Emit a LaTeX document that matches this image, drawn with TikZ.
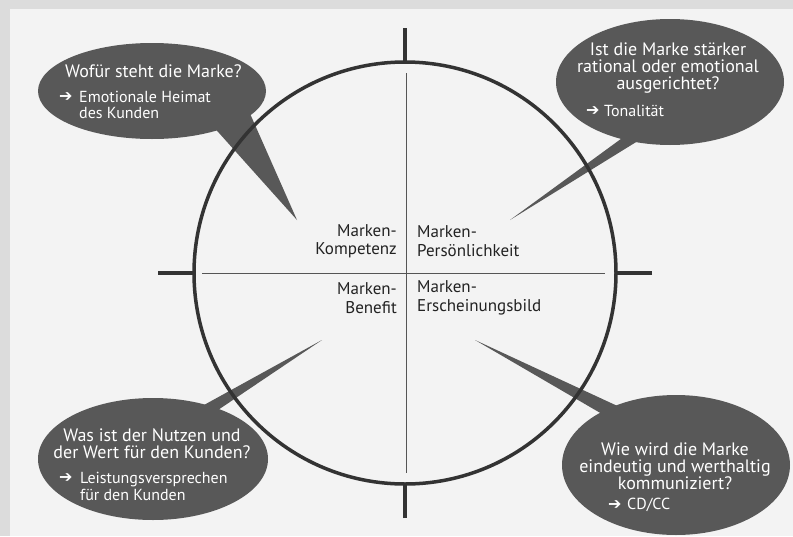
\documentclass[tikz,border=0pt]{standalone}
\usepackage{fontspec}
\setmainfont{PT Sans}
\newfontfamily\arrfont{DejaVu Sans}
\usetikzlibrary{shapes.geometric}
\definecolor{bgouter}{HTML}{DCDCDC}
\definecolor{bginner}{HTML}{F3F3F3}
\definecolor{bubblecol}{HTML}{585858}
\definecolor{linecol}{HTML}{333333}
\definecolor{axiscol}{HTML}{555555}
\definecolor{labelcol}{HTML}{222222}
\newcommand{\myarr}{{\arrfont\fontsize{16}{16}\selectfont ➔}}
\begin{document}
\begin{tikzpicture}[x=1pt,y=-1pt,
 bubble/.style={ellipse, fill=bubblecol, draw=none, inner sep=0pt, outer sep=0pt},
 tail/.style={fill=bubblecol, draw=none},
 qtext/.style={text=white, font=\fontsize{18}{17}\selectfont, align=center, inner sep=0pt},
 stext/.style={text=white, font=\fontsize{16}{16}\selectfont, align=left, inner sep=0pt, anchor=west},
 arrtext/.style={text=white, inner sep=0pt, anchor=west},
 ctext/.style={text=labelcol, font=\fontsize{17}{18.5}\selectfont, inner sep=0pt},
 axisline/.style={draw=axiscol, line width=0.9pt},
 tickline/.style={draw=linecol, line width=3.5pt},
]
\fill[bgouter] (0,0) rectangle (793,536);
\fill[bginner] (10,9) rectangle (793,536);
\useasboundingbox (0,0) rectangle (793,536);

% tails
\coordinate (t1a) at (202,114); \coordinate (t1b) at (244,100); \coordinate (tip1) at (297,220);
\coordinate (t2a) at (640,125); \coordinate (t2b) at (675,118); \coordinate (tip2) at (510,220);
\coordinate (t3a) at (184,416); \coordinate (t3b) at (215,412); \coordinate (tip3) at (322,340);
\coordinate (t4a) at (633,432); \coordinate (t4b) at (665,428); \coordinate (tip4) at (475,340);
\fill[tail] (t1a) -- (tip1) -- (t1b) -- cycle;
\fill[tail] (t2a) -- (tip2) -- (t2b) -- cycle;
\fill[tail] (t3a) -- (tip3) -- (t3b) -- cycle;
\fill[tail] (t4a) -- (tip4) -- (t4b) -- cycle;

% bubbles
\node[bubble, minimum width=228pt, minimum height=96pt] (b1) at (152,91) {};
\node[bubble, minimum width=228pt, minimum height=126pt] (b2) at (670,82) {};
\node[bubble, minimum width=230pt, minimum height=122pt] (b3) at (153,459) {};
\node[bubble, minimum width=228pt, minimum height=140pt] (b4) at (676,465) {};

% circle, ticks, axes
\node[circle, draw=linecol, line width=3.5pt, minimum size=422pt, inner sep=0pt, outer sep=0pt] (c) at (405,273) {};
\coordinate (tickT) at (405,28);
\coordinate (tickB) at (405,518);
\coordinate (tickL) at (158,273);
\coordinate (tickR) at (652,273);
\draw[tickline] (tickT) -- (c.north);
\draw[tickline] (tickB) -- (c.south);
\draw[tickline] (tickL) -- (c.west);
\draw[tickline] (tickR) -- (c.east);
\coordinate (axT) at (406,73);
\coordinate (axB) at (406,473);
\coordinate (axL) at (202,273);
\coordinate (axR) at (605,273);
\draw[axisline] (axT) -- (axB);
\draw[axisline] (axL) -- (axR);

% center labels
\node[ctext, align=right, anchor=east] (k1) at (397,241) {Marken-\\Kompetenz};
\node[ctext, align=left, anchor=west] (k2) at (417,241) {Marken-\\Persönlichkeit};
\node[ctext, align=right, anchor=east] (k3) at (397,298) {Marken-\\Benefit};
\node[ctext, align=left, anchor=west] (k4) at (417,298) {Marken-\\Erscheinungsbild};

% bubble 1 text
\node[qtext, anchor=west] (q1) at (65,71) {Wofür steht die Marke?};
\node[arrtext] (a1) at (59,97) {\myarr};
\node[stext] (s1) at (79,105) {Emotionale Heimat\\des Kunden};

% bubble 2 text
\node[qtext] (q2) at (668,68) {Ist die Marke stärker\\rational oder emotional\\ausgerichtet?};
\node[arrtext] (a2) at (586,111) {\myarr};
\node[stext] (s2) at (604,111) {Tonalität};

% bubble 3 text
\node[qtext] (q3) at (152,444) {Was ist der Nutzen und\\der Wert für den Kunden?};
\node[arrtext] (a3) at (59,478) {\myarr};
\node[stext, font=\fontsize{16}{17}\selectfont] (s3) at (80,486.5) {Leistungsversprechen\\für den Kunden};

% bubble 4 text
\node[qtext] (q4) at (675,466) {Wie wird die Marke\\eindeutig und werthaltig\\kommuniziert?};
\node[arrtext] (a4) at (608,505) {\myarr};
\node[stext] (s4) at (627,505) {CD/CC};
\end{tikzpicture}
\end{document}
